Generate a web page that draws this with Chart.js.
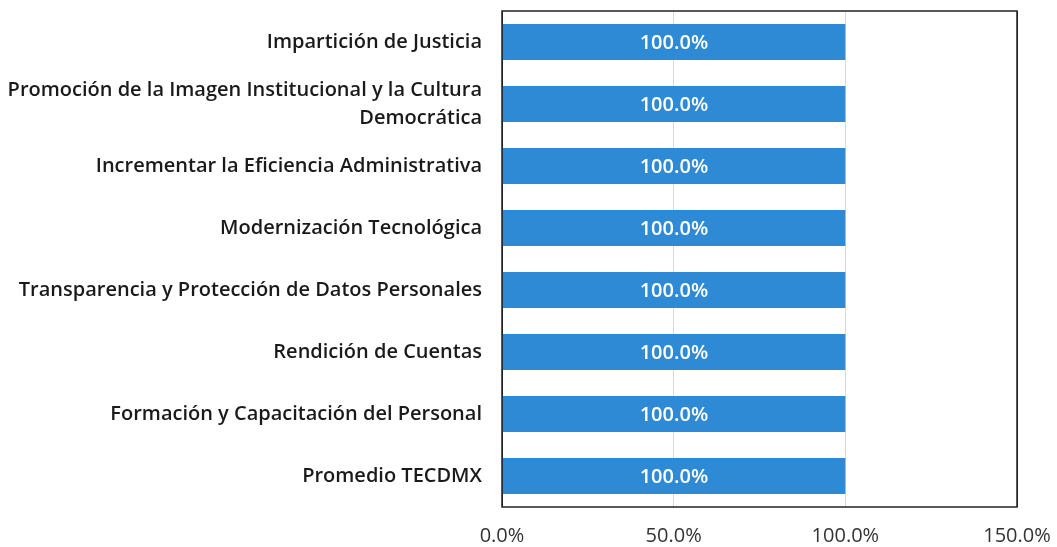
<!DOCTYPE html>
<html>
<head>
<meta charset="utf-8">
<script src="https://cdn.jsdelivr.net/npm/chart.js@4/dist/chart.umd.min.js"></script>
<style>
  html, body { margin: 0; padding: 0; background: #fff; }
  #wrap { width: 1057px; height: 547px; }
</style>
</head>
<body>
<div id="wrap"><canvas id="avance"></canvas></div>
<script>
// Categorías (eje vertical) y avance por programa
const categorias = [
    'Impartición de Justicia',
    ['Promoción de la Imagen Institucional y la Cultura', 'Democrática'],
    'Incrementar la Eficiencia Administrativa',
    'Modernización Tecnológica',
    'Transparencia y Protección de Datos Personales',
    'Rendición de Cuentas',
    'Formación y Capacitación del Personal',
    'Promedio TECDMX'
];
const avance = [100, 100, 100, 100, 100, 100, 100, 100];
const ticksX = [0, 50, 100, 150];

// etiquetas blancas dentro de la barra
const barLabels = {
    id: 'barLabels',
    afterDatasetsDraw(chart) {
        const c = chart.ctx;
        const meta = chart.getDatasetMeta(0);
        c.save();
        c.fillStyle = '#ffffff';
        c.font = '600 20px "Open Sans", sans-serif';
        c.textAlign = 'center';
        c.textBaseline = 'middle';
        meta.data.forEach((bar, i) => {
            const p = bar.getProps(['x', 'y', 'base'], true);
            c.fillText(avance[i].toFixed(1) + '%', (p.x + p.base) / 2, p.y + 1);
        });
        c.restore();
    }
};

// marco del área de trazado
const plotFrame = {
    id: 'plotFrame',
    afterDraw(chart) {
        const a = chart.chartArea;
        const c = chart.ctx;
        c.save();
        c.strokeStyle = '#222';
        c.lineWidth = 1.5;
        c.strokeRect(a.left, a.top, a.right - a.left, a.bottom - a.top);
        c.restore();
    }
};

new Chart(document.getElementById('avance'), {
    type: 'bar',
    data: {
        labels: categorias,
        datasets: [{
            data: avance,
            backgroundColor: '#2E8AD5',
            borderWidth: 0,
            categoryPercentage: 1.0,
            barPercentage: 0.58
        }]
    },
    options: {
        indexAxis: 'y',
        responsive: true,
        maintainAspectRatio: false,
        animation: false,
        layout: { padding: { top: 11, right: 40, bottom: 0, left: 0 } },
        plugins: {
            legend: { display: false },
            tooltip: { enabled: false }
        },
        scales: {
            x: {
                min: 0,
                max: 150,
                afterBuildTicks: (scale) => { scale.ticks = ticksX.map(v => ({ value: v })); },
                afterFit: (scale) => { scale.height = 40; scale.paddingLeft = 0; scale.paddingRight = 0; },
                grid: {
                    color: (ctx) => (ctx.tick && (ctx.tick.value === 0 || ctx.tick.value === 150)) ? '#222' : '#d9d9d9',
                    drawTicks: false
                },
                border: { display: false },
                ticks: {
                    padding: 17,
                    color: '#333',
                    font: { size: 20, family: '"Open Sans", sans-serif' },
                    callback: (v) => v.toFixed(1) + '%'
                }
            },
            y: {
                afterFit: (scale) => { scale.width = 502; scale.paddingTop = 0; scale.paddingBottom = 0; },
                grid: { display: false },
                border: { display: false },
                ticks: {
                    padding: 12,
                    color: '#1a1a1a',
                    font: { size: 20, weight: '600', family: '"Open Sans", sans-serif', lineHeight: 1.4 }
                }
            }
        }
    },
    plugins: [barLabels, plotFrame]
});
</script>
</body>
</html>
